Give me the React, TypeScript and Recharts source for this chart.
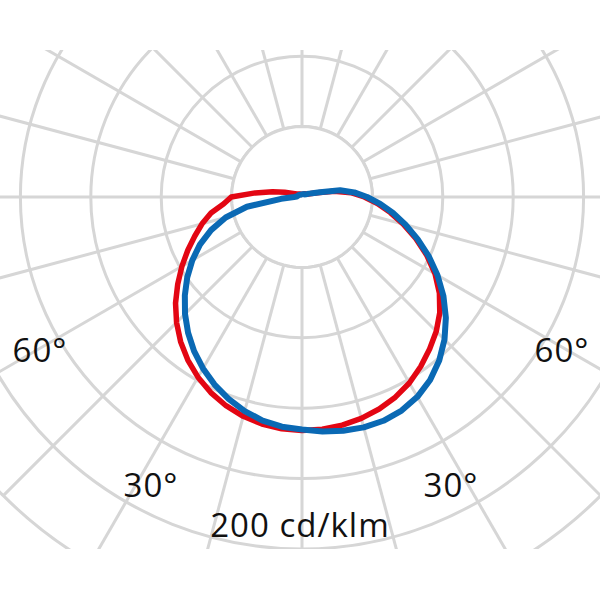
import { PolarAngleAxis, PolarGrid, PolarRadiusAxis, Radar, RadarChart } from "recharts";

// angle from nadir (0 = straight down, 90 = right, 180 = up, 270 = left)
const angles = [
  0, 5, 10, 15, 20, 25, 30, 35, 40, 45, 50, 55, 60, 65, 70, 75, 80, 85, 90, 95, 100, 105, 110, 115,
  120, 125, 130, 135, 140, 145, 150, 155, 160, 165, 170, 175, 180, 185, 190, 195, 200, 205, 210,
  215, 220, 225, 230, 235, 240, 245, 250, 255, 260, 265, 270, 275, 280, 285, 290, 295, 300, 305,
  310, 315, 320, 325, 330, 335, 340, 345, 350, 355,
];

// cd/klm, red plane
const planeRed = [
  132.7, 132.4, 131.6, 130.2, 128.2, 125.5, 122.0, 117.6, 112.8, 107.9, 102.2, 95.3, 87.3, 78.2,
  68.8, 59.6, 51.0, 43.0, 35.4, 27.9, 18.6, 9.1, 5.7, 4.0, 3.4, 2.9,
  2.7, 2.6, 2.4, 2.2, 2.0, 1.9, 1.8, 1.7, 1.6, 1.5, 1.5, 1.5, 1.5, 1.6, 1.7, 1.8, 1.9, 2.0, 2.2,
  2.4, 2.6, 2.9,
  3.4, 4.5, 6.3, 10.2, 17.0, 26.7, 40.2, 44.6, 52.5, 58.8, 64.8, 71.6, 78.8, 86.2, 93.8, 100.8,
  107.3, 113.1, 118.2, 122.6, 126.2, 129.0, 131.0, 132.2,
];

// cd/klm, blue plane
const planeBlue = [
  132.1, 133.8, 134.9, 135.5, 135.3, 133.9, 131.1, 126.9, 121.3, 114.5, 106.7, 98.1, 88.9, 79.4,
  69.9, 60.9, 52.5, 44.6, 37.0, 29.8, 22.0, 10.5, 6.3, 4.5, 3.4, 2.8,
  2.3, 2.2, 2.1, 2.0, 1.9, 1.8, 1.7, 1.6, 1.6, 1.5, 1.5, 1.5, 1.5, 1.5, 1.5, 1.5, 1.6, 1.6, 1.7,
  1.8, 1.9, 2.0, 2.1, 2.2, 2.4, 2.6,
  2.8, 3.0, 4.5, 11.9, 31.8, 44.9, 55.0, 64.0, 72.0, 79.6, 86.9, 94.0, 100.7, 106.9, 112.5, 117.6,
  122.0, 125.9, 129.0, 131.0,
];

const ringValues = [40, 80, 120, 160, 200, 240];
const spokeAngles = [0, 15, 30, 45, 60, 75, 90, 105, 120, 135, 150, 165, 180, 195, 210, 225, 240, 255, 270, 285, 300, 315, 330, 345];

const MAX = 240;
const OUTER = 422.4;
const GRID = "#d6d6d6";

const data = angles.map((angle, i) => ({
  angle,
  red: planeRed[i],
  blue: planeBlue[i],
  hub: ringValues[0],
}));

const labelStyle = {
  fontFamily: "'Open Sans', sans-serif",
  fontSize: 33,
  fontWeight: 500,
  fill: "#111111",
  letterSpacing: 1,
};

export default function App() {
  return (
    <div style={{ position: "absolute", left: 0, top: 0, width: 600, height: 600, background: "#fff" }}>
      <div style={{ position: "absolute", left: 0, top: 50, width: 600, height: 499, overflow: "hidden" }}>
        <RadarChart
          width={600}
          height={499}
          data={data}
          cx={302}
          cy={147}
          innerRadius={0}
          outerRadius={OUTER}
          startAngle={-90}
          endAngle={270}
          margin={{ top: 0, right: 0, bottom: 0, left: 0 }}
        >
          <PolarGrid
            gridType="circle"
            polarRadius={ringValues.map((v) => (v / MAX) * OUTER)}
            polarAngles={spokeAngles}
            stroke={GRID}
            strokeWidth={3}
          />
          <PolarAngleAxis dataKey="angle" type="number" domain={[0, 360]} tick={false} axisLine={false} tickLine={false} />
          <PolarRadiusAxis domain={[0, MAX]} tick={false} axisLine={false} tickLine={false} />
          <Radar dataKey="hub" stroke={GRID} strokeWidth={3} fill="#ffffff" fillOpacity={1} isAnimationActive={false} />
          <Radar
            dataKey="red"
            stroke="#e30613"
            strokeWidth={5.5}
            strokeLinejoin="round"
            fill="none"
            fillOpacity={0}
            isAnimationActive={false}
          />
          <Radar
            dataKey="blue"
            stroke="#0a69b4"
            strokeWidth={6}
            strokeLinejoin="round"
            fill="none"
            fillOpacity={0}
            isAnimationActive={false}
          />
        </RadarChart>
      </div>
      <svg width={600} height={600} style={{ position: "absolute", left: 0, top: 0, pointerEvents: "none" }}>
        <text x={40} y={362} textAnchor="middle" style={labelStyle}>60°</text>
        <text x={562} y={362} textAnchor="middle" style={labelStyle}>60°</text>
        <text x={151} y={497} textAnchor="middle" style={labelStyle}>30°</text>
        <text x={451} y={497} textAnchor="middle" style={labelStyle}>30°</text>
        <text x={300} y={537} textAnchor="middle" style={labelStyle}>200 cd/klm</text>
      </svg>
    </div>
  );
}
